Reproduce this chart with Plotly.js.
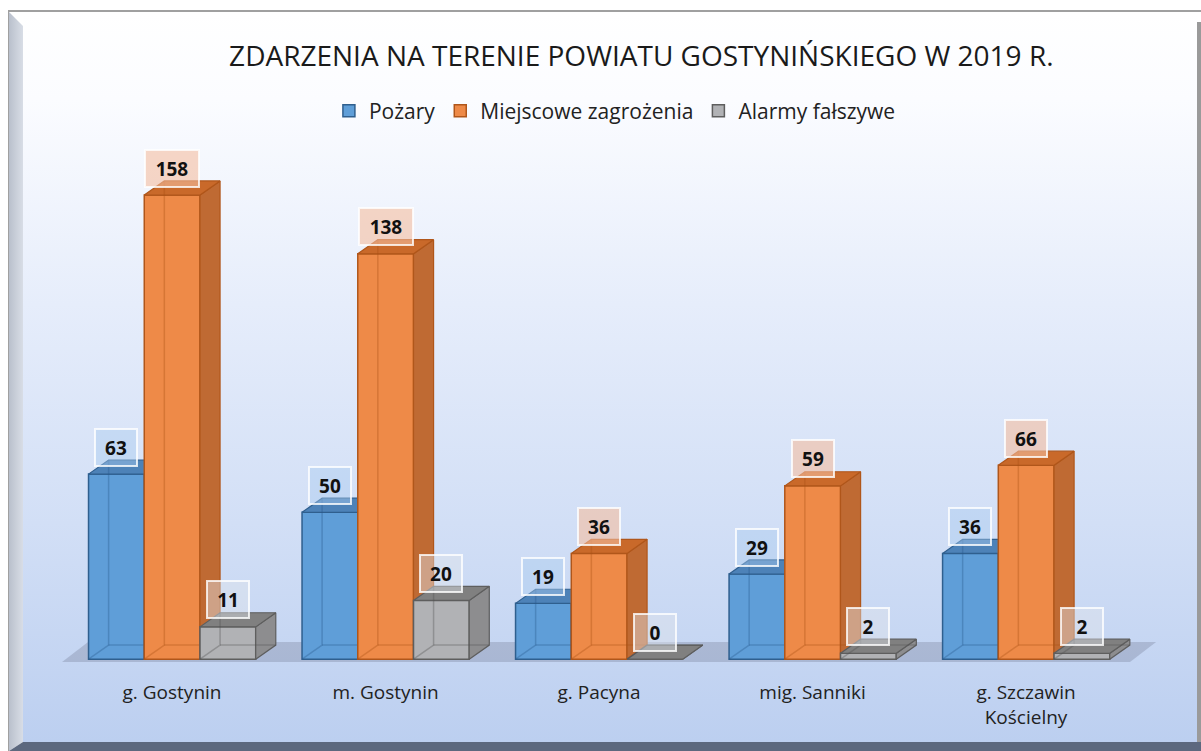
<!DOCTYPE html>
<html>
<head>
<meta charset="utf-8">
<script src="https://cdn.plot.ly/plotly-3.0.1.min.js"></script>
<style>
  html, body { margin:0; padding:0; width:1201px; height:751px; overflow:hidden; background:#ffffff; }
  #outer { position:absolute; left:8px; top:10px; width:1193px; height:741px; border-top:2px solid #a0a0a0; border-left:1px solid #a0a0a0; box-sizing:border-box; }
  #bg { position:absolute; left:23px; top:12px; width:1174px; height:730px;
        background: linear-gradient(180deg, #ffffff 0%, #fbfcff 12%, #e6edfb 40%, #d2dff6 70%, #bccff0 100%); }
  #lbevel { position:absolute; left:9px; top:12px; width:14px; height:739px;
        background: linear-gradient(90deg, #b9c0cc 0%, #c9cfd9 50%, #d8dde6 100%);
        clip-path: polygon(0 0, 100% 14px, 100% calc(100% - 9px), 0 100%); }
  #rbevel { position:absolute; left:1197px; top:22px; width:4px; height:720px; background:#9a9a9a; }
  #bband { position:absolute; left:9px; top:742px; width:1192px; height:9px; background:#5c687e;
        clip-path: polygon(14px 0, 100% 0, 100% 100%, 0 100%); }
  #chart { position:absolute; left:0; top:0; width:1201px; height:751px; }
</style>
</head>
<body>
<div id="outer"></div>
<div id="bg"></div>
<div id="lbevel"></div>
<div id="rbevel"></div>
<div id="bband"></div>
<div id="chart"></div>
<script>
// ---- data ----
const categories = ['g. Gostynin', 'm. Gostynin', 'g. Pacyna', 'mig. Sanniki', 'g. Szczawin<br>Kościelny'];
const seriesNames = ['Pożary', 'Miejscowe zagrożenia', 'Alarmy fałszywe'];
const pozary = [63, 50, 19, 29, 36];
const miejscowe = [158, 138, 36, 59, 66];
const alarmy = [11, 20, 0, 2, 2];
const chartTitle = 'ZDARZENIA NA TERENIE POWIATU GOSTYNIŃSKIEGO W 2019 R.';

// ---- styling ----
const seriesValues = [pozary, miejscowe, alarmy];
const styles = [
  {front:'#5f9ed8', line:'#2f5f8e', top:'#4d82b8', side:'#44729f', edge:'rgba(40,90,140,0.35)', lblBg:'rgba(170,205,240,0.45)'},
  {front:'#ee8a48', line:'#b0561a', top:'#c9692a', side:'#bf6a33', edge:'rgba(170,80,20,0.35)', lblBg:'rgba(245,190,160,0.6)'},
  {front:'#b1b2b5', line:'#5e5e5e', top:'#808080', side:'#8d8d8f', edge:'rgba(80,80,80,0.35)', lblBg:'rgba(225,228,235,0.45)'}
];
const W = 0.261;          // bar width (category units)
const GROUP_LEFT = -0.391; // left edge of first bar relative to category center
const DX = 0.094;         // depth offset x (category units)
const DY = 4.8;           // depth offset y (value units)
const FONT = 'Open Sans, Noto Sans, sans-serif';

const xIdx = categories.map((c, i) => i);
const traces = [];
const annotations = [];

seriesValues.forEach((vals, s) => {
  const st = styles[s];
  const xa = s === 0 ? 'x' : 'x' + (s + 1);
  const ya = s === 0 ? 'y' : 'y' + (s + 1);
  const off = GROUP_LEFT + s * W;
  // front faces: real bars
  traces.push({
    type: 'bar', name: seriesNames[s], x: xIdx, y: vals,
    offset: off, width: W, xaxis: xa, yaxis: ya,
    marker: {color: st.front, line: {color: st.line, width: 1.5}},
    hoverinfo: 'skip', showlegend: true, legendrank: s + 1
  });
  // side & top faces and see-through back edges
  const sx = [], sy = [], tx = [], ty = [], ex = [], ey = [];
  vals.forEach((h, i) => {
    const xl = i + off, xr = xl + W;
    sx.push(xr, xr + DX, xr + DX, xr, xr, null);
    sy.push(0, DY, h + DY, h, 0, null);
    tx.push(xl, xr, xr + DX, xl + DX, xl, null);
    ty.push(h, h, h + DY, h + DY, h, null);
    ex.push(xl, xl + DX, xl + DX, null, xl + DX, xr + DX, null);
    ey.push(0, DY, h + DY, null, DY, DY, null);
    annotations.push({
      xref: xa, yref: ya, x: xl + W / 2, y: h, yshift: 27,
      text: '<b>' + h + '</b>', showarrow: false,
      font: {family: FONT, size: 19, color: '#111111'},
      bgcolor: st.lblBg, bordercolor: 'rgba(255,255,255,0.8)', borderwidth: 2,
      width: String(h).length > 2 ? 50 : 38, height: 33, valign: 'middle'
    });
  });
  traces.push({type:'scatter', mode:'lines', x: sx, y: sy, xaxis: xa, yaxis: ya, fill:'toself',
    fillcolor: st.side, line:{color: st.line, width: 1.2}, hoverinfo:'skip', showlegend:false});
  traces.push({type:'scatter', mode:'lines', x: tx, y: ty, xaxis: xa, yaxis: ya, fill:'toself',
    fillcolor: st.top, line:{color: st.line, width: 1.2}, hoverinfo:'skip', showlegend:false});
  traces.push({type:'scatter', mode:'lines', x: ex, y: ey, xaxis: xa, yaxis: ya,
    line:{color: st.edge, width: 1.5}, hoverinfo:'skip', showlegend:false});
});

const XR = [-0.534, 4.632];
const YR = [-3, 178.1];
const hiddenX = {range: XR, visible: false, fixedrange: true};
const hiddenY = {range: YR, visible: false, fixedrange: true};

const layout = {
  width: 1201, height: 751,
  margin: {l: 58, r: 40, t: 136, b: 83, pad: 0},
  paper_bgcolor: 'rgba(0,0,0,0)', plot_bgcolor: 'rgba(0,0,0,0)',
  showlegend: true,
  title: {text: chartTitle, xref: 'container', x: 0.534, xanchor: 'center',
          yref: 'container', y: 0.925, yanchor: 'middle',
          font: {family: FONT, size: 28, color: '#1a1a1a'}},
  legend: {orientation: 'h', xref: 'container', x: 0.512, xanchor: 'center',
           yref: 'container', y: 0.852, yanchor: 'middle',
           font: {family: FONT, size: 21, color: '#222222'}, bgcolor: 'rgba(0,0,0,0)',
           traceorder: 'normal'},
  xaxis: {range: XR, tickmode: 'array', tickvals: xIdx, ticktext: categories,
          showgrid: false, zeroline: false, showline: false, fixedrange: true,
          ticks: 'outside', ticklen: 7, tickcolor: 'rgba(0,0,0,0)',
          tickfont: {family: FONT, size: 19, color: '#222222'}},
  yaxis: {range: YR, visible: false, fixedrange: true},
  xaxis2: Object.assign({overlaying: 'x'}, hiddenX),
  yaxis2: Object.assign({overlaying: 'y'}, hiddenY),
  xaxis3: Object.assign({overlaying: 'x'}, hiddenX),
  yaxis3: Object.assign({overlaying: 'y'}, hiddenY),
  shapes: [{
    type: 'path', xref: 'x', yref: 'y', layer: 'below',
    path: 'M -0.515 -0.95 L 4.487 -0.95 L 4.609 5.85 L -0.393 5.85 Z',
    fillcolor: 'rgba(120,130,155,0.35)', line: {width: 0}
  }],
  annotations: annotations,
  bargap: 0, hovermode: false
};

Plotly.newPlot('chart', traces, layout, {displayModeBar: false, staticPlot: true});
</script>
</body>
</html>
